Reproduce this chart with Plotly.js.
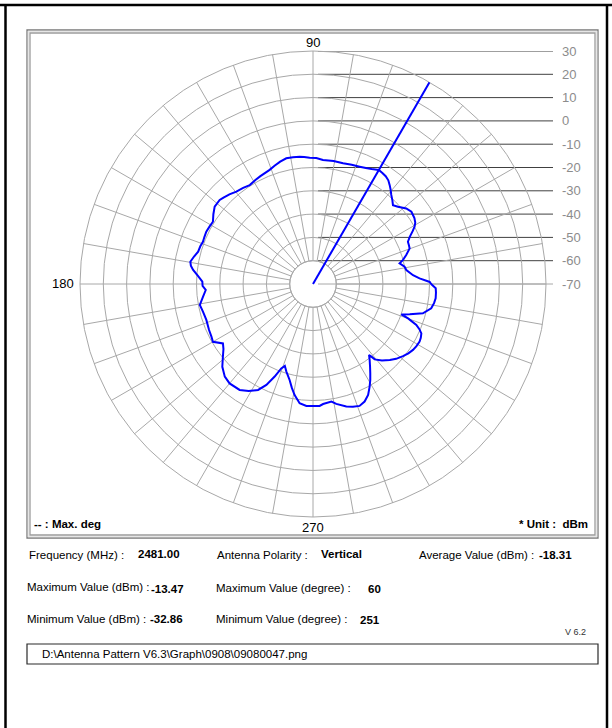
<!DOCTYPE html>
<html><head><meta charset="utf-8">
<script src="https://cdn.plot.ly/plotly-3.0.1.min.js"></script>
<style>html,body{margin:0;padding:0;background:#fff;} #chart{width:612px;height:728px;}</style>
</head><body><div id="chart"></div>
<script>
// ---- data ----
const THETA_DEG = [0,1,3,5,8.5,10.7,13.4,15,17.3,20.2,22,24,26,28,29.5,31,33,36.3,39,42.3,44.6,46.5,48.7,50.5,52.2,54,56,58,60,63,65.5,68.3,72,76,80.5,85.4,88.5,91.5,94,96,99,102,105,108,110.8,116,119,122.6,126,129.7,133,136,138,141.8,145,148.1,151,153.9,156.5,159,161.5,164.3,167,169.7,171.5,173.3,176,178.8,181,183.2,186.6,190.5,194.1,198.6,203.9,207.4,210,213.4,216,218.9,222.4,226.4,230,235.3,239,242.6,245.2,247.5,249.4,251,253.1,256.3,258.5,260.6,263.6,266.9,270,273.1,274.8,278.9,281,285.2,288,290.9,293.7,296.4,298.9,300.8,302.7,304.7,306.7,308.3,308.8,309.3,312,315.3,318,321.3,324,326.6,329,331.6,333.5,335.5,337,338.4,340.1,341,342.6,345.1,348.4,351,353.3,356,358];
const LEVEL_DBM = [-19.3,-19.9,-24.2,-26.9,-29.5,-30.0,-31.8,-30.0,-28.1,-25.8,-25.6,-25.4,-23.8,-21.5,-19.9,-18.8,-18.1,-17.6,-18.5,-20.7,-21.8,-20.5,-19.1,-17.6,-16.3,-15.0,-14.2,-13.8,-13.47,-14.6,-15.3,-15.8,-16.2,-16.6,-16.5,-16.6,-15.9,-15.8,-15.4,-15.1,-14.9,-14.85,-15.6,-16.6,-17.6,-18.5,-19.0,-19.6,-19.0,-18.5,-17.4,-16.6,-16.1,-16.3,-17.8,-19.4,-19.2,-19.0,-19.2,-19.4,-19.0,-18.8,-17.6,-16.5,-17.0,-18.2,-20.5,-22.5,-22.6,-23.9,-22.5,-20.6,-21.3,-21.7,-21.2,-20.9,-20.4,-23.7,-22.5,-20.3,-17.3,-15.1,-14.3,-14.7,-16.4,-18.8,-22.3,-27.0,-31.3,-32.86,-30.7,-27.6,-24.5,-21.7,-18.5,-17.6,-17.6,-17.6,-18.3,-18.9,-17.6,-15.5,-14.6,-14.0,-14.9,-16.8,-19.7,-22.0,-24.5,-27.0,-29.3,-31.2,-30.0,-28.2,-25.8,-23.6,-22.0,-20.5,-19.4,-18.6,-18.2,-18.0,-18.3,-18.9,-20.4,-22.3,-26.6,-29.9,-26.5,-21.2,-18.2,-17.4,-17.0,-17.1,-17.3];
const RADIAL_TICKS = [30,20,10,0,-10,-20,-30,-40,-50,-60,-70];
const RADIAL_RANGE = [-70, 30];
const ANGLE_STEP = 10;
const MAX_DEG = 60;
const STAT_NAMES = ['Frequency (MHz) :','Antenna Polarity :','Average Value (dBm) :','Maximum Value (dBm) :','Maximum Value (degree) :','Minimum Value (dBm) :','Minimum Value (degree) :'];
const STAT_VALUES = ['2481.00','Vertical','-18.31','-13.47','60','-32.86','251'];
const FILE_PATH = 'D:\\Antenna Pattern V6.3\\Graph\\0908\\09080047.png';

// ---- layout helpers ----
const W = 612, H = 728;
const fx = p => p / W;
const fy = p => 1 - p / H;
const GRID = '#a8a8a8';
const FONT = 'Liberation Sans, Arial, sans-serif';

// horizontal level lines
const hx = [], hy = [];
RADIAL_TICKS.filter(v => v > RADIAL_RANGE[0]).forEach(v => { hx.push(0, 1, null); hy.push(v, v, null); });
const lowX = [], lowY = [];
RADIAL_TICKS.filter(v => v === RADIAL_RANGE[0]).forEach(v => { lowX.push(0, 1); lowY.push(v, v); });

const traces = [
  {type:'scatter', x:hx, y:hy, xaxis:'x', yaxis:'y', mode:'lines', line:{color:'#404040', width:1}, hoverinfo:'skip', showlegend:false},
  {type:'scatter', x:lowX, y:lowY, xaxis:'x', yaxis:'y', mode:'lines', line:{color:GRID, width:1}, hoverinfo:'skip', showlegend:false},
  {type:'scatterpolar', subplot:'polar', r:[RADIAL_RANGE[1]], theta:[0], mode:'lines', line:{color:'rgba(0,0,0,0)'}, hoverinfo:'skip', showlegend:false},
  {type:'scatterpolar', subplot:'polar2', r:LEVEL_DBM.concat([LEVEL_DBM[0]]), theta:THETA_DEG.concat([THETA_DEG[0]+360]), mode:'lines', line:{color:'#0000ff', width:2}, hoverinfo:'skip', showlegend:false},
  {type:'scatterpolar', subplot:'polar2', r:[RADIAL_RANGE[0], RADIAL_RANGE[1]], theta:[MAX_DEG, MAX_DEG], mode:'lines', line:{color:'#0000ff', width:2}, hoverinfo:'skip', showlegend:false}
];

const cx = 313, cy = 284, R = 233;
const polarDomain = {x:[fx(cx-R), fx(cx+R)], y:[fy(cy+R), fy(cy-R)]};

function ann(x, y, text, size, opts) {
  opts = opts || {};
  return {x:fx(x), y:fy(y), xref:'paper', yref:'paper', text:text, showarrow:false,
    xanchor:opts.anchor || 'left', yanchor:'middle',
    font:{family:FONT, size:size, color:opts.color || '#000'}};
}

const annotations = [
  ann(cx, 42, '90', 13, {anchor:'center'}),
  ann(76, 284, '180', 13, {anchor:'right'}),
  ann(cx, 527, '270', 13, {anchor:'center'}),
  ann(32, 524, '<b>-- : Max. deg</b>', 11.5),
  ann(590, 524, '<b>* Unit :  dBm</b>', 11.5, {anchor:'right'}),
  // row 1
  ann(27, 555, STAT_NAMES[0], 11.5), ann(136, 554, '<b>'+STAT_VALUES[0]+'</b>', 11.5),
  ann(215, 555, STAT_NAMES[1], 11.5), ann(319, 554, '<b>'+STAT_VALUES[1]+'</b>', 11.5),
  ann(417, 555, STAT_NAMES[2], 11.5), ann(537, 555, '<b>'+STAT_VALUES[2]+'</b>', 11.5),
  // row 2
  ann(25, 587, STAT_NAMES[3], 11.5), ann(149, 589, '<b>'+STAT_VALUES[3]+'</b>', 11.5),
  ann(214, 588, STAT_NAMES[4], 11.5), ann(366, 589, '<b>'+STAT_VALUES[4]+'</b>', 11.5),
  // row 3
  ann(25, 619, STAT_NAMES[5], 11.5), ann(148, 619, '<b>'+STAT_VALUES[5]+'</b>', 11.5),
  ann(214, 619, STAT_NAMES[6], 11.5), ann(358, 620, '<b>'+STAT_VALUES[6]+'</b>', 11.5),
  ann(588, 632, 'V 6.2', 9, {anchor:'right', color:'#333'}),
  ann(40, 654, FILE_PATH, 11.5)
];

function rect(x0, y0, x1, y1, color, w) {
  return {type:'rect', xref:'paper', yref:'paper', x0:fx(x0), x1:fx(x1), y0:fy(y1), y1:fy(y0), line:{color:color, width:w}, fillcolor:'rgba(0,0,0,0)', layer:'above'};
}
function seg(x0, y0, x1, y1, color, w) {
  return {type:'line', xref:'paper', yref:'paper', x0:fx(x0), x1:fx(x1), y0:fy(y0), y1:fy(y1), line:{color:color, width:w}, layer:'above'};
}

const shapes = [
  seg(0, 5, W, 5, '#000', 2.5),
  seg(5.5, 4, 5.5, H, '#000', 2.5),
  seg(607, 4, 607, H, '#000', 2.5),
  rect(27, 30, 598, 538, '#7a7a7a', 1.3),
  rect(28.5, 31.5, 596.5, 536.5, '#e6e6e6', 1.3),
  rect(30, 33, 595, 535, '#9c9c9c', 1.3),
  rect(27, 644, 598, 664, '#2a2a2a', 1.2)
];

const layout = {
  width:W, height:H, autosize:false,
  margin:{l:0, r:0, t:0, b:0, pad:0},
  paper_bgcolor:'#fff', plot_bgcolor:'rgba(0,0,0,0)',
  showlegend:false,
  xaxis:{domain:[fx(318), fx(553)], range:[0,1], visible:false, fixedrange:true},
  yaxis:{domain:[fy(cy+R), fy(cy-R)], range:[RADIAL_RANGE[0]-(RADIAL_RANGE[1]-RADIAL_RANGE[0]), RADIAL_RANGE[1]],
         anchor:'x', side:'right', tickmode:'array', tickvals:RADIAL_TICKS, ticktext:RADIAL_TICKS.map(String),
         showgrid:false, zeroline:false, showline:false, ticks:'', ticklabelstandoff:8,
         tickfont:{family:FONT, size:13, color:'#8c8c8c'}, fixedrange:true},
  polar:{domain:polarDomain, hole:0.1, bgcolor:'rgba(0,0,0,0)',
    radialaxis:{range:[RADIAL_RANGE[0]+10, RADIAL_RANGE[1]], tickmode:'linear', tick0:RADIAL_RANGE[0]+10, dtick:10,
      showticklabels:false, ticks:'', showline:false, gridcolor:GRID, gridwidth:1},
    angularaxis:{tickmode:'linear', tick0:0, dtick:ANGLE_STEP, showticklabels:false, ticks:'',
      showline:true, linecolor:GRID, linewidth:1, gridcolor:GRID, gridwidth:1, direction:'counterclockwise', rotation:0}},
  polar2:{domain:polarDomain, bgcolor:'rgba(0,0,0,0)',
    radialaxis:{range:RADIAL_RANGE, tickmode:'array', tickvals:[RADIAL_RANGE[0]+10], showgrid:true, gridcolor:GRID,
      showticklabels:false, ticks:'', showline:false},
    angularaxis:{showgrid:false, showline:false, showticklabels:false, ticks:'', direction:'counterclockwise', rotation:0}},
  annotations:annotations,
  shapes:shapes
};

Plotly.newPlot('chart', traces, layout, {displayModeBar:false, staticPlot:true});
</script>
</body></html>
